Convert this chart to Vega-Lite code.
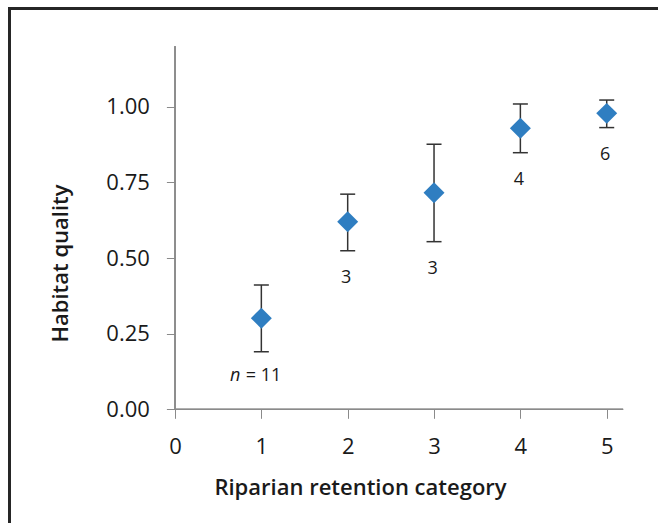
{
  "$schema": "https://vega.github.io/schema/vega-lite/v6.json",
  "width": 649,
  "height": 515,
  "autosize": {"type": "none"},
  "padding": {"left": 9, "top": 8, "right": 0, "bottom": 0},
  "background": "white",
  "config": {"view": {"stroke": null}, "font": "Open Sans"},
  "data": {
    "values": [
      {"cat": 1, "hq": 0.301, "lo": 0.190, "hi": 0.411, "label": "= 11"},
      {"cat": 2, "hq": 0.620, "lo": 0.524, "hi": 0.711, "label": "3"},
      {"cat": 3, "hq": 0.716, "lo": 0.554, "hi": 0.876, "label": "3"},
      {"cat": 4, "hq": 0.929, "lo": 0.848, "hi": 1.009, "label": "4"},
      {"cat": 5, "hq": 0.978, "lo": 0.931, "hi": 1.022, "label": "6"}
    ]
  },
  "resolve": {"axis": {"x": "independent", "y": "independent"}},
  "layer": [
    {
      "mark": {"type": "point", "opacity": 0},
      "encoding": {
        "x": {"field": "cat", "type": "quantitative", "scale": {"domain": [-1.9226, 5.594], "nice": false, "zero": false},
          "axis": {"orient": "top", "offset": 0, "domain": true, "domainColor": "#262626", "domainWidth": 3, "domainCap": "square", "ticks": false, "labels": false, "grid": false, "title": null}},
        "y": {"field": "hq", "type": "quantitative", "scale": {"domain": [-0.3757, 1.3262], "nice": false, "zero": false},
          "axis": {"orient": "left", "offset": 0, "domain": true, "domainColor": "#262626", "domainWidth": 3, "domainCap": "square", "ticks": false, "labels": false, "grid": false, "title": null}}
      }
    },
    {
      "mark": {"type": "rule", "color": "#8a8a8a", "strokeWidth": 1},
      "encoding": {
        "x": {"datum": 0, "type": "quantitative", "scale": {"domain": [-1.9226, 5.594], "nice": false, "zero": false}, "axis": null},
        "y": {"datum": 0, "type": "quantitative", "scale": {"domain": [-0.3757, 1.3262], "nice": false, "zero": false}, "axis": null},
        "y2": {"datum": 1.2}
      }
    },
    {
      "mark": {"type": "rule", "color": "#8a8a8a", "strokeWidth": 1},
      "encoding": {
        "x": {"datum": 0, "type": "quantitative", "scale": {"domain": [-1.9226, 5.594], "nice": false, "zero": false}, "axis": null},
        "x2": {"datum": 5.19},
        "y": {"datum": 0, "type": "quantitative", "scale": {"domain": [-0.3757, 1.3262], "nice": false, "zero": false}, "axis": null}
      }
    },
    {
      "mark": {"type": "rule", "color": "#333333", "strokeWidth": 1.5},
      "encoding": {
        "x": {"field": "cat", "type": "quantitative", "scale": {"domain": [-1.9226, 5.594], "nice": false, "zero": false}, "axis": null},
        "y": {"field": "lo", "type": "quantitative", "scale": {"domain": [-0.3757, 1.3262], "nice": false, "zero": false}, "axis": null},
        "y2": {"field": "hi"}
      }
    },
    {
      "mark": {"type": "tick", "orient": "horizontal", "size": 15, "thickness": 1.5, "color": "#333333", "opacity": 1},
      "encoding": {
        "x": {"field": "cat", "type": "quantitative", "scale": {"domain": [-1.9226, 5.594], "nice": false, "zero": false}, "axis": null},
        "y": {"field": "lo", "type": "quantitative", "scale": {"domain": [-0.3757, 1.3262], "nice": false, "zero": false}, "axis": null}
      }
    },
    {
      "mark": {"type": "tick", "orient": "horizontal", "size": 15, "thickness": 1.5, "color": "#333333", "opacity": 1},
      "encoding": {
        "x": {"field": "cat", "type": "quantitative", "scale": {"domain": [-1.9226, 5.594], "nice": false, "zero": false}, "axis": null},
        "y": {"field": "hi", "type": "quantitative", "scale": {"domain": [-0.3757, 1.3262], "nice": false, "zero": false}, "axis": null}
      }
    },
    {
      "mark": {"type": "point", "shape": "diamond", "filled": true, "size": 440, "color": "#2f7ec1", "opacity": 1},
      "encoding": {
        "x": {"field": "cat", "type": "quantitative", "scale": {"domain": [-1.9226, 5.594], "nice": false, "zero": false},
          "axis": {"orient": "bottom", "offset": -113.7, "domain": false, "grid": false, "values": [0, 1, 2, 3, 4, 5], "format": "d",
            "ticks": true, "tickSize": 9, "tickColor": "#8a8a8a", "tickWidth": 1,
            "labelFont": "Open Sans", "labelFontSize": 22, "labelColor": "#1a1a1a", "labelBaseline": "alphabetic", "labelPadding": 35, "labelFlush": false,
            "title": "Riparian retention category", "titleFont": "Open Sans", "titleFontSize": 22, "titleFontWeight": 600, "titleColor": "#1a1a1a",
            "titleX": 351, "titleY": 84.7, "titleBaseline": "alphabetic", "titleAlign": "center"}},
        "y": {"field": "hq", "type": "quantitative", "scale": {"domain": [-0.3757, 1.3262], "nice": false, "zero": false},
          "axis": {"orient": "left", "offset": -166, "domain": false, "grid": false, "values": [0, 0.25, 0.5, 0.75, 1], "format": ".2f",
            "ticks": true, "tickSize": 8.6, "tickColor": "#8a8a8a", "tickWidth": 1,
            "labelFont": "Open Sans", "labelFontSize": 22, "labelColor": "#1a1a1a", "labelBaseline": "middle", "labelPadding": 17, "labelFlush": false,
            "title": "Habitat quality", "titleFont": "Open Sans", "titleFontSize": 22, "titleFontWeight": 600, "titleColor": "#1a1a1a",
            "titleX": -107.3, "titleY": 255, "titleBaseline": "alphabetic", "titleAlign": "center", "titleAngle": 270}}
      }
    },
    {
      "transform": [{"filter": "datum.cat > 1"}],
      "mark": {"type": "text", "fontSize": 18, "font": "Open Sans", "color": "#1a1a1a", "baseline": "middle", "align": "center", "dy": 27, "dx": -1.5},
      "encoding": {
        "x": {"field": "cat", "type": "quantitative", "scale": {"domain": [-1.9226, 5.594], "nice": false, "zero": false}, "axis": null},
        "y": {"field": "lo", "type": "quantitative", "scale": {"domain": [-0.3757, 1.3262], "nice": false, "zero": false}, "axis": null},
        "text": {"field": "label"}
      }
    },
    {
      "transform": [{"filter": "datum.cat == 1"}],
      "mark": {"type": "text", "fontSize": 18, "font": "Open Sans", "color": "#1a1a1a", "baseline": "middle", "align": "left", "dy": 24, "dx": -15.5},
      "encoding": {
        "x": {"field": "cat", "type": "quantitative", "scale": {"domain": [-1.9226, 5.594], "nice": false, "zero": false}, "axis": null},
        "y": {"field": "lo", "type": "quantitative", "scale": {"domain": [-0.3757, 1.3262], "nice": false, "zero": false}, "axis": null},
        "text": {"field": "label"}
      }
    },
    {
      "transform": [{"filter": "datum.cat == 1"}],
      "mark": {"type": "text", "text": "n", "fontSize": 18, "font": "Open Sans", "fontStyle": "italic", "color": "#1a1a1a", "baseline": "middle", "align": "right", "dy": 24, "dx": -21},
      "encoding": {
        "x": {"field": "cat", "type": "quantitative", "scale": {"domain": [-1.9226, 5.594], "nice": false, "zero": false}, "axis": null},
        "y": {"field": "lo", "type": "quantitative", "scale": {"domain": [-0.3757, 1.3262], "nice": false, "zero": false}, "axis": null}
      }
    }
  ]
}
